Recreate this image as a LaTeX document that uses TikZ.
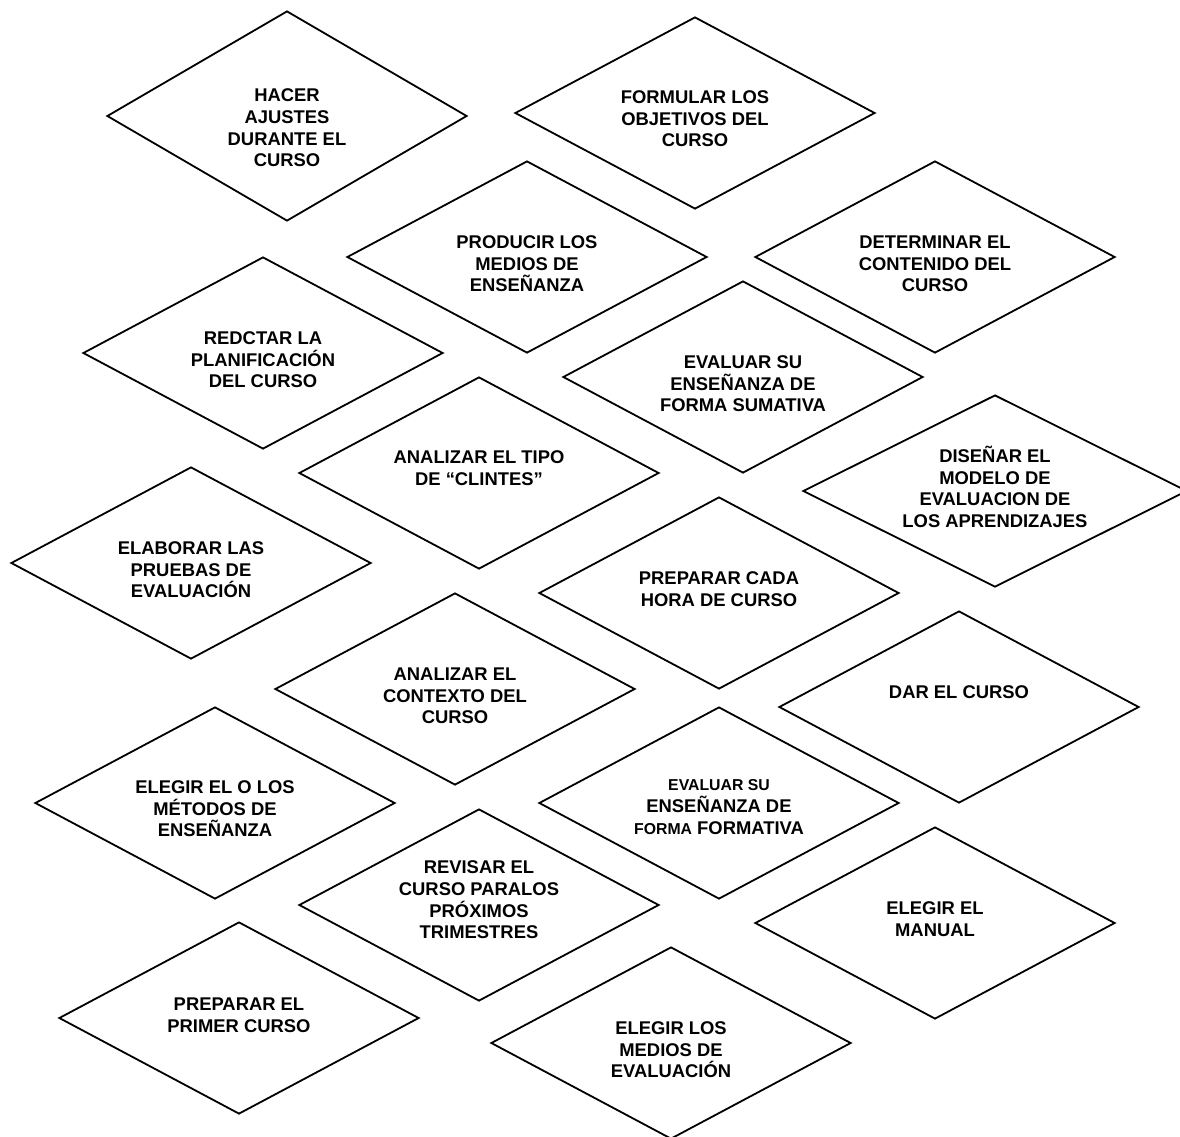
\documentclass[tikz,border=0pt]{standalone}
\usepackage{fontspec}
\setmainfont{Liberation Sans}
\usetikzlibrary{shapes.geometric}
\begin{document}
\begin{tikzpicture}[x=0.5pt,y=-0.5pt,
  dia/.style={diamond, draw=black, line width=0.9pt, minimum width=180pt, minimum height=96pt, inner sep=0pt},
  lbl/.style={font=\fontsize{9.2}{10.8}\selectfont\bfseries, align=center, inner sep=0pt}]
\newcommand{\smallsz}{\fontsize{7.9}{10.8}\selectfont}
\useasboundingbox (0,0) rectangle (1180,1137);
% diamonds
\node[dia, minimum height=105pt] (d1) at (287,116) {};
\node[dia] (d2) at (695,113) {};
\node[dia] (d3) at (527,257) {};
\node[dia] (d4) at (935,257) {};
\node[dia] (d5) at (263,353) {};
\node[dia] (d6) at (743,377) {};
\node[dia] (d7) at (479,473) {};
\node[dia, minimum width=192pt] (d8) at (995,491) {};
\node[dia] (d9) at (191,563) {};
\node[dia] (d10) at (719,593) {};
\node[dia] (d11) at (455,689) {};
\node[dia] (d12) at (959,707) {};
\node[dia] (d13) at (215,803) {};
\node[dia] (d14) at (719,803) {};
\node[dia] (d15) at (479,905) {};
\node[dia] (d16) at (935,923) {};
\node[dia] (d17) at (239,1018) {};
\node[dia] (d18) at (671,1043) {};
% texts
\node[lbl] (t1) at (287,128) {HACER\\AJUSTES\\DURANTE EL\\CURSO};
\node[lbl] (t2) at (695,119) {FORMULAR LOS\\OBJETIVOS DEL\\CURSO};
\node[lbl] (t3) at (527,264) {PRODUCIR LOS\\MEDIOS DE\\ENSEÑANZA};
\node[lbl] (t4) at (935,264) {DETERMINAR EL\\CONTENIDO DEL\\CURSO};
\node[lbl] (t5) at (263,360) {REDCTAR LA\\PLANIFICACIÓN\\DEL CURSO};
\node[lbl] (t6) at (743,384) {EVALUAR SU\\ENSEÑANZA DE\\FORMA SUMATIVA};
\node[lbl] (t7) at (479,468) {ANALIZAR EL TIPO\\DE “CLINTES”};
\node[lbl] (t8) at (995,487) {DISEÑAR EL\\MODELO DE\\EVALUACION DE\\LOS APRENDIZAJES};
\node[lbl] (t9) at (191,570) {ELABORAR LAS\\PRUEBAS DE\\EVALUACIÓN};
\node[lbl] (t10) at (719,589) {PREPARAR CADA\\HORA DE CURSO};
\node[lbl] (t11) at (455,696) {ANALIZAR EL\\CONTEXTO DEL\\CURSO};
\node[lbl] (t12) at (959,692) {DAR EL CURSO};
\node[lbl] (t13) at (215,809) {ELEGIR EL O LOS\\MÉTODOS DE\\ENSEÑANZA};
\node[lbl] (t14) at (719,807) {{\smallsz EVALUAR SU}\\ENSEÑANZA DE\\{\smallsz FORMA} FORMATIVA};
\node[lbl] (t15) at (479,900) {REVISAR EL\\CURSO PARALOS\\PRÓXIMOS\\TRIMESTRES};
\node[lbl] (t16) at (935,919) {ELEGIR EL\\MANUAL};
\node[lbl] (t17) at (239,1015) {PREPARAR EL\\PRIMER CURSO};
\node[lbl] (t18) at (671,1050) {ELEGIR LOS\\MEDIOS DE\\EVALUACIÓN};
\end{tikzpicture}
\end{document}
